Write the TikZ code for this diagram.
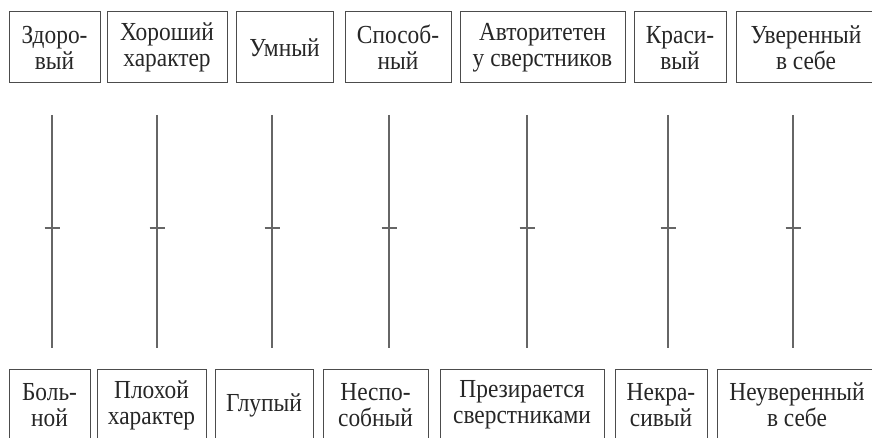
\documentclass[tikz,border=0pt]{standalone}
\usepackage{fontspec}
\setmainfont[FakeStretch=0.9]{Liberation Serif}
\usepackage{tikz}
\usetikzlibrary{calc}

\tikzset{
	pole/.style={draw=black!70, line width=1pt, align=center, inner sep=0pt,
		minimum height=71pt, text=black!85,
		font=\fontsize{26}{26}\selectfont},
	scale line/.style={draw=black!60, line width=1.2pt}
}

\begin{document}
\begin{tikzpicture}[x=1pt, y=-1pt]
	
	\useasboundingbox (0,0) rectangle (872,438);
	\clip (0,0) rectangle (872,438);
	
	% top poles
	\node[pole, minimum width=91pt] (zdor) at (54.5,47.5) {Здоро-\\вый};
	\node[pole, minimum width=120pt] (khor) at (167,47.5) {Хороший\\характер};
	\node[pole, minimum width=97pt] (umn) at (284.5,47.5) {Умный};
	\node[pole, minimum width=106pt] (spos) at (398,47.5) {Способ-\\ный};
	\node[pole, minimum width=165pt] (avt) at (542.5,47.5) {Авторитетен\\у сверстников};
	\node[pole, minimum width=92pt] (kras) at (680,47.5) {Краси-\\вый};
	\node[pole, minimum width=140pt] (uver) at (806,47.5) {Уверенный\\в себе};
	
	% bottom poles
	\node[pole, minimum width=81pt] (boln) at (49.5,405) {Боль-\\ной};
	\node[pole, minimum width=109pt] (plokh) at (151.5,405) {Плохой\\характер};
	\node[pole, minimum width=98pt] (glup) at (264,405) {Глупый};
	\node[pole, minimum width=105pt] (nesp) at (375.5,405) {Неспо-\\собный};
	\node[pole, minimum width=164pt] (prez) at (522,405) {Презирается\\сверстниками};
	\node[pole, minimum width=92pt] (nekr) at (661,405) {Некра-\\сивый};
	\node[pole, minimum width=160pt] (neuv) at (797,405) {Неуверенный\\в себе};
	
	% scales
	\foreach \x [count=\i] in {52,157,272,389,527,668,793} {
		\coordinate (up\i) at (\x,115);
		\coordinate (lo\i) at (\x,348);
		\coordinate (tl\i) at (\x-7.5,228);
		\coordinate (tr\i) at (\x+7.5,228);
		\draw[scale line] (up\i) -- (lo\i);
		\draw[scale line] (tl\i) -- (tr\i);
	}
	
\end{tikzpicture}
\end{document}
